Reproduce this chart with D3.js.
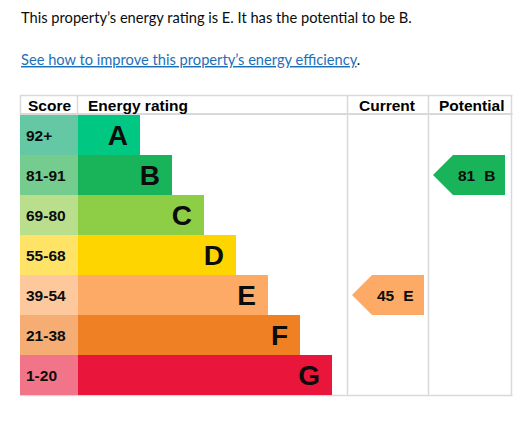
<!DOCTYPE html>
<html>
<head>
<meta charset="utf-8">
<script src="https://cdn.jsdelivr.net/npm/d3@7"></script>
<style>
  html, body { margin: 0; padding: 0; background: #fff; }
  svg { display: block; }
</style>
</head>
<body>
<script>
// ---- data ----
const bands = ["A", "B", "C", "D", "E", "F", "G"];
const scoreLabels = ["92+", "81-91", "69-80", "55-68", "39-54", "21-38", "1-20"];
const scoreMins = [92, 81, 69, 55, 39, 21, 1];
const barColors = ["#00c781", "#19b459", "#8dce46", "#ffd500", "#fcaa65", "#ef8023", "#e9153b"];
const scoreColors = ["#64c8a4", "#75cc8f", "#b9de8c", "#ffe366", "#fdc89c", "#f5ad74", "#f27489"];
const headers = ["Score", "Energy rating", "Current", "Potential"];
const currentScore = 45;
const potentialScore = 81;
const introText = "This property\u2019s energy rating is E. It has the potential to be B.";
const linkText = "See how to improve this property\u2019s energy efficiency";

// ---- layout ----
const W = 532, H = 421;
const svg = d3.select("body").append("svg").attr("width", W).attr("height", H);

const bandOf = s => bands[scoreMins.findIndex(m => s >= m)];

// top texts (fit font size so sentence spans the same width as the reference)
const bodyFont = "Lato, 'Noto Sans', sans-serif";
const intro = svg.append("text").attr("x", 21).attr("y", 22.5)
  .attr("font-family", bodyFont).attr("font-size", 16).attr("fill", "#0b0c0c")
  .text(introText);
const measured = intro.node().getComputedTextLength();
const bodySize = measured > 0 ? 16 * 391 / measured : 16;
intro.attr("font-size", bodySize);
const link = svg.append("text").attr("x", 21).attr("y", 65)
  .attr("font-family", bodyFont).attr("font-size", bodySize);
link.append("tspan").attr("fill", "#1d70b8").attr("text-decoration", "underline").text(linkText);
link.append("tspan").attr("fill", "#0b0c0c").text(".");

// scales
const y = d3.scaleBand().domain(bands).range([115, 395]).padding(0);
const xBar = d3.scaleLinear().domain([0, bands.length]).range([108, 332]);
const colX = { left: 20, scoreRight: 78, current: 347.5, potential: 428.5, right: 511.5 };

const chartFont = "'Liberation Sans', Arial, sans-serif";
const grid = "#d9d9d9";

// grid lines
const g = svg.append("g");
g.append("line").attr("x1", 20).attr("x2", colX.right + 1).attr("y1", 95.5).attr("y2", 95.5)
  .attr("stroke", grid).attr("stroke-width", 1.5);
g.append("line").attr("x1", 20).attr("x2", colX.right + 1).attr("y1", 114).attr("y2", 114)
  .attr("stroke", grid).attr("stroke-width", 2);
g.append("line").attr("x1", 20).attr("x2", colX.right + 1).attr("y1", 395.5).attr("y2", 395.5)
  .attr("stroke", grid).attr("stroke-width", 1.5);
[20.5, 77.5].forEach(x => g.append("line").attr("x1", x).attr("x2", x).attr("y1", 95).attr("y2", 115)
  .attr("stroke", grid).attr("stroke-width", 1.5));
[colX.current, colX.potential, colX.right].forEach(x => g.append("line").attr("x1", x).attr("x2", x)
  .attr("y1", 95).attr("y2", 396).attr("stroke", grid).attr("stroke-width", 1.5));

// headers
const headerX = [28, 88, 359, 439];
svg.selectAll("text.hdr").data(headers).join("text").attr("class", "hdr")
  .attr("x", (d, i) => headerX[i]).attr("y", 111)
  .attr("font-family", chartFont).attr("font-weight", "bold").attr("font-size", 15.5)
  .attr("fill", "#000").text(d => d);

// rows
const rows = svg.selectAll("g.row").data(bands).join("g").attr("class", "row");
rows.append("rect").attr("x", 20).attr("y", d => y(d)).attr("width", 58).attr("height", y.bandwidth())
  .attr("fill", (d, i) => scoreColors[i]);
rows.append("rect").attr("x", 78).attr("y", d => y(d))
  .attr("width", (d, i) => xBar(i + 1) - 78).attr("height", y.bandwidth())
  .attr("fill", (d, i) => barColors[i]);
rows.append("text").attr("x", 26).attr("y", d => y(d) + y.bandwidth() / 2 + 5.5)
  .attr("font-family", chartFont).attr("font-weight", "bold").attr("font-size", 15.5)
  .attr("fill", "#0b0c0c").text((d, i) => scoreLabels[i]);
rows.append("text").attr("x", (d, i) => xBar(i + 1) - 12).attr("y", d => y(d) + y.bandwidth() / 2 + 10)
  .attr("text-anchor", "end")
  .attr("font-family", chartFont).attr("font-weight", "bold").attr("font-size", 28)
  .attr("fill", "#0b0c0c").text(d => d);

// arrows
function arrow(score, colLeft) {
  const band = bandOf(score);
  const i = bands.indexOf(band);
  const top = y(band), h = y.bandwidth(), mid = top + h / 2;
  const tip = colLeft + 4.5, w = 72;
  svg.append("path")
    .attr("d", `M${tip},${mid} L${tip + h / 2},${top} L${tip + w},${top} L${tip + w},${top + h} L${tip + h / 2},${top + h} Z`)
    .attr("fill", barColors[i]);
  const t = svg.append("text").attr("x", tip + 25).attr("y", mid + 5.5)
    .attr("font-family", chartFont).attr("font-weight", "bold").attr("font-size", 15.5)
    .attr("fill", "#0b0c0c");
  t.append("tspan").text(score);
  t.append("tspan").attr("dx", 9).text(band);
}
arrow(currentScore, colX.current);
arrow(potentialScore, colX.potential);
</script>
</body>
</html>
